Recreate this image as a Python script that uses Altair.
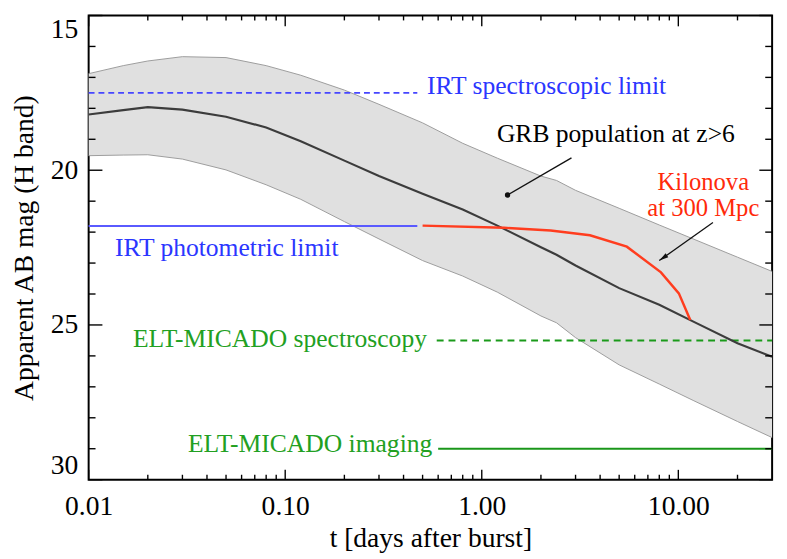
import altair as alt
import pandas as pd

# ---------------- data ----------------
t_grid = [0.01, 0.015, 0.02, 0.03, 0.05, 0.08, 0.12, 0.2, 0.3, 0.5, 0.8,
          1.2, 2, 2.4, 3, 5, 8, 12, 20, 30]
band_bright = [16.88, 16.62, 16.47, 16.33, 16.36, 16.62, 16.93, 17.41, 17.87,
               18.47, 19.13, 19.61, 20.19, 20.33, 20.65, 21.23, 21.77, 22.23,
               22.81, 23.27]
band_faint = [19.53, 19.51, 19.50, 19.64, 19.99, 20.47, 20.94, 21.66, 22.22,
              22.92, 23.42, 23.94, 24.71, 24.93, 25.41, 26.29, 26.91, 27.45,
              28.12, 28.64]
grb_median = [18.20, 18.06, 17.96, 18.04, 18.27, 18.62, 19.06, 19.69, 20.19,
              20.76, 21.27, 21.79, 22.49, 22.73, 23.08, 23.81, 24.35, 24.90,
              25.59, 26.03]

kn_t = [0.50, 1.3, 2.24, 3.55, 5.47, 8.16, 10.06, 11.5]
kn_mag = [21.79, 21.86, 21.95, 22.10, 22.47, 23.30, 23.98, 24.84]

# limit lines: (name, mag, t_start, t_end)
lim_names = ["IRT spectroscopic", "IRT photometric", "ELT spectroscopy", "ELT imaging"]
lim_mag = [17.5, 21.8, 25.5, 29.0]
lim_t0 = [0.01, 0.01, 0.59, 0.6]
lim_t1 = [0.47, 0.47, 30, 30]

# annotation pointer lines
grb_ptr_t = [2.86, 1.353]
grb_ptr_mag = [19.60, 20.80]
kn_ptr_t = [15.0, 8.0]
kn_ptr_mag = [21.69, 22.92]

# text labels
lab_text = ["IRT spectroscopic limit", "IRT photometric limit",
            "ELT-MICADO spectroscopy", "ELT-MICADO imaging",
            "GRB population at z>6"]
lab_t = [0.526, 0.0136, 0.0168, 0.032, 1.194]
lab_mag = [17.55, 22.78, 25.71, 29.11, 19.08]
lab_color = ["#2b36ff", "#2b36ff", "#22a022", "#22a022", "#000000"]

kn_lab_lines = ["Kilonova", "at 300 Mpc"]
kn_lab_t = 13.4
kn_lab_mag = 20.65

x_major = [0.01, 0.1, 1, 10]
x_minor = [0.02, 0.03, 0.04, 0.05, 0.06, 0.07, 0.08, 0.09,
           0.2, 0.3, 0.4, 0.5, 0.6, 0.7, 0.8, 0.9,
           2, 3, 4, 5, 6, 7, 8, 9, 20]
y_major = [15, 20, 25, 30]
y_minor = [16, 17, 18, 19, 21, 22, 23, 24, 26, 27, 28, 29]

# ---------------- chart ----------------
W, H = 695, 472
SERIF = "Liberation Serif"

xs = alt.Scale(type="log", domain=[0.01, 30], nice=False)
ys = alt.Scale(domain=[15, 30], reverse=True, nice=False, zero=False)

axis_style = dict(labelFont=SERIF, titleFont=SERIF, labelFontSize=28,
                  titleFontSize=28, titleFontWeight="normal",
                  labelColor="black", titleColor="black",
                  ticks=False, domain=False, grid=False)
x_axis = alt.Axis(values=x_major, format=".2f", title="t [days after burst]",
                  labelPadding=13, titlePadding=5, labelFlush=False,
                  **axis_style)
y_axis = alt.Axis(values=y_major, format="d", title="Apparent AB mag (H band)",
                  labelPadding=11, titlePadding=12, labelFlush=True,
                  **axis_style)


def X(f="t"):
    return alt.X(f"{f}:Q", scale=xs, axis=x_axis)


def Y(f="mag"):
    return alt.Y(f"{f}:Q", scale=ys, axis=y_axis)


band_df = pd.DataFrame({"t": t_grid, "bright": band_bright,
                        "faint": band_faint, "mag": grb_median})

band = alt.Chart(band_df).mark_area(color="#e0e0e0", opacity=1).encode(
    x=X(), y=Y("bright"), y2="faint:Q")
edge_b = alt.Chart(band_df).mark_line(color="#9c9c9c", strokeWidth=1).encode(
    x=X(), y=Y("bright"))
edge_f = alt.Chart(band_df).mark_line(color="#9c9c9c", strokeWidth=1).encode(
    x=X(), y=Y("faint"))
median = alt.Chart(band_df).mark_line(color="#3c3c3c", strokeWidth=2.2).encode(
    x=X(), y=Y())

lim_df = pd.DataFrame({"name": lim_names, "mag": lim_mag, "t": lim_t0, "t2": lim_t1})


def lim_layer(name, color, dash, width):
    m = dict(color=color, strokeWidth=width)
    if dash:
        m["strokeDash"] = dash
    return alt.Chart(lim_df[lim_df["name"] == name]).mark_rule(**m).encode(
        x=X(), x2="t2:Q", y=Y())


lims = [
    lim_layer("IRT spectroscopic", "#4646ff", [6, 4], 1.6),
    lim_layer("IRT photometric", "#5a5aff", None, 2),
    lim_layer("ELT spectroscopy", "#1a9a1a", [7, 5], 2),
    lim_layer("ELT imaging", "#1a961a", None, 2),
]

kn_df = pd.DataFrame({"t": kn_t, "mag": kn_mag})
kilonova = alt.Chart(kn_df).mark_line(color="#ff3d1f", strokeWidth=2.5).encode(
    x=X(), y=Y())

ptr_df = pd.DataFrame({
    "t": grb_ptr_t + kn_ptr_t,
    "mag": grb_ptr_mag + kn_ptr_mag,
    "g": ["grb", "grb", "kn", "kn"],
})
pointers = alt.Chart(ptr_df).mark_line(color="#111111", strokeWidth=1.3).encode(
    x=X(), y=Y(), detail="g:N")
dot = alt.Chart(pd.DataFrame({"t": [grb_ptr_t[1]], "mag": [grb_ptr_mag[1]]})).mark_point(
    filled=True, color="#111111", size=30, opacity=1, shape="circle").encode(x=X(), y=Y())
head = alt.Chart(pd.DataFrame({"t": [kn_ptr_t[1]], "mag": [kn_ptr_mag[1]]})).mark_point(
    filled=True, color="#111111", size=90, opacity=1,
    shape="M0,0 L0.5,2 L-0.5,2 Z", angle=235).encode(x=X(), y=Y())

lab_df = pd.DataFrame({"t": lab_t, "mag": lab_mag, "text": lab_text, "color": lab_color})
labels = alt.Chart(lab_df).mark_text(
    font=SERIF, fontSize=26, align="left", baseline="alphabetic").encode(
    x=X(), y=Y(), text="text:N", color=alt.Color("color:N", scale=None))

kn_lab_df = pd.DataFrame({"t": [kn_lab_t], "mag": [kn_lab_mag], "text": [kn_lab_lines]})
kn_labels = alt.Chart(kn_lab_df).mark_text(
    font=SERIF, fontSize=25, align="center", baseline="alphabetic",
    lineHeight=26, color="#ff2a0a").encode(x=X(), y=Y(), text="text:N")

# inward ticks on all four sides
ymaj_df = pd.DataFrame({"mag": y_major})
ymin_df = pd.DataFrame({"mag": y_minor})
xmaj_df = pd.DataFrame({"t": x_major})
xmin_df = pd.DataFrame({"t": x_minor})


def ytick(df, L, right=False):
    x0, x1 = (W - L, W) if right else (0, L)
    return alt.Chart(df).mark_rule(color="black", strokeWidth=1.4).encode(
        y=Y(), x=alt.value(x0), x2=alt.value(x1))


def xtick(df, L, top=False):
    y0, y1 = (0, L) if top else (H, H - L)
    return alt.Chart(df).mark_rule(color="black", strokeWidth=1.4).encode(
        x=X(), y=alt.value(y0), y2=alt.value(y1))


ticks = [
    ytick(ymaj_df, 14), ytick(ymin_df, 7),
    ytick(ymaj_df, 13, True), ytick(ymin_df, 7, True),
    xtick(xmaj_df, 10), xtick(xmin_df, 5),
    xtick(xmaj_df, 11, True), xtick(xmin_df, 5, True),
]

chart = alt.layer(
    band, edge_b, edge_f, *lims, median, kilonova, pointers, dot, head,
    labels, kn_labels, *ticks
).properties(
    width=W, height=H,
    padding={"left": 3, "top": 2, "right": 2, "bottom": 0},
    background="white",
).configure_view(
    stroke="black", strokeWidth=2
)

chart.save("out.html", embed_options={"renderer": "svg", "actions": False})
